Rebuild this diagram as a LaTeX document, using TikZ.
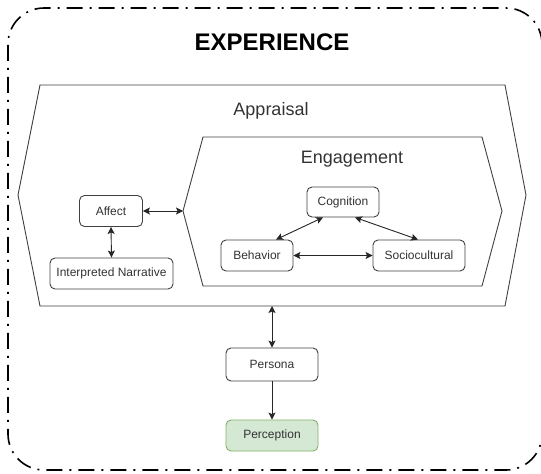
\documentclass[tikz,border=0pt]{standalone}
\usepackage{fontspec}
\setmainfont{Liberation Sans}
\usetikzlibrary{arrows.meta}
\definecolor{txt}{HTML}{333333}
\definecolor{pfill}{HTML}{D5E8D4}
\definecolor{pdraw}{HTML}{82B366}
\begin{document}
\begin{tikzpicture}[x=1pt,y=-1pt,
  box/.style={draw=black!75, rounded corners=5pt, line width=0.9pt, minimum height=31pt, inner sep=0pt, font=\fontsize{12}{14}\selectfont, text=txt, fill=white},
  link/.style={line width=0.9pt, draw=black!85},
  tip/.tip={Stealth[length=7pt,width=7pt,inset=1.5pt]},
  dbl/.style={link, tip-tip},
  one/.style={link, -tip},
  hex/.style={draw=black!75, line width=0.9pt},
  lbl/.style={text=txt, font=\fontsize{18}{22}\selectfont, anchor=base}]
\useasboundingbox (0,0) rectangle (541,474);
% outer frame (its right edge lies at the picture's border)
\draw[line width=1.6pt, dash pattern=on 16pt off 7pt on 2pt off 7pt, rounded corners=36pt]
  (542,44) -- (542,8) -- (8,8) -- (8,470) -- (542,470) -- (542,434);
\node[anchor=base, font=\bfseries\fontsize{24}{28}\selectfont] (title) at (272,50) {EXPERIENCE};
% appraisal hexagon
\draw[hex] (40,85) -- (505,85) -- (526,195) -- (505,306) -- (40,306) -- (18,195) -- cycle;
\node[lbl] (appr) at (271,115.5) {Appraisal};
% engagement hexagon
\draw[hex] (203,137) -- (482,137) -- (502,211) -- (482,286) -- (203,286) -- (183,211) -- cycle;
\node[lbl] (eng) at (352,163) {Engagement};
\coordinate (engL) at (183,211);
\coordinate (apprB) at (272,306);
% nodes
\node[box, minimum width=63pt] (aff) at (111,211) {Affect};
\node[box, minimum width=123pt] (narr) at (111.5,273.5) {Interpreted Narrative};
\node[box, minimum width=72pt, minimum height=30pt] (cog) at (343,202) {Cognition};
\node[box, minimum width=72pt] (beh) at (257,255.5) {Behavior};
\node[box, minimum width=92pt] (soc) at (419,255.5) {Sociocultural};
\node[box, minimum width=92pt, minimum height=33pt] (pers) at (272,364.5) {Persona};
\node[box, minimum width=92pt, fill=pfill, draw=pdraw] (perc) at (272,435.5) {Perception};
% connectors
\draw[dbl] (aff.east) -- (engL);
\draw[dbl] (aff.south) -- (narr.north);
\draw[dbl] ([xshift=-20pt]cog.south) -- ([xshift=19pt]beh.north);
\draw[dbl] ([xshift=12pt]cog.south) -- ([xshift=-1pt]soc.north);
\draw[dbl] (beh.east) -- (soc.west);
\draw[dbl] (apprB) -- (pers.north);
\draw[one] (pers.south) -- (perc.north);
\end{tikzpicture}
\end{document}
